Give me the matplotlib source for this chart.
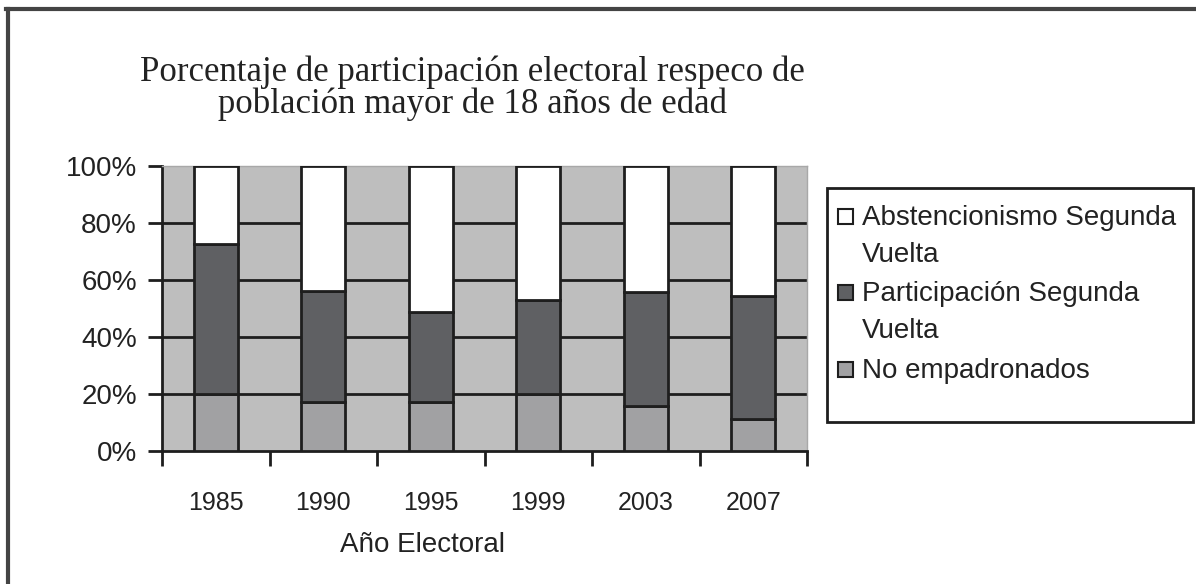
import matplotlib
matplotlib.use("Agg")
import matplotlib.pyplot as plt
from matplotlib.patches import Rectangle
from matplotlib.lines import Line2D
import numpy as np

years = ["1985", "1990", "1995", "1999", "2003", "2007"]
no_empadronados = [20.0, 17.3, 17.3, 19.9, 15.8, 11.1]
participacion = [52.5, 38.8, 31.6, 33.1, 40.1, 43.4]
abstencionismo = [27.5, 43.9, 51.1, 47.0, 44.1, 45.5]
series_labels = ["Abstencionismo Segunda\nVuelta", "Participación Segunda\nVuelta", "No empadronados"]
yticks = [0, 20, 40, 60, 80, 100]
ytick_labels = ["0%", "20%", "40%", "60%", "80%", "100%"]

W, H = 1196, 584
fig = plt.figure(figsize=(W / 100, H / 100), dpi=100)
fig.patch.set_facecolor("white")

def fx(px):
    return px / W

def fy(py):
    return 1 - py / H

ax = fig.add_axes([fx(162), fy(451), fx(807) - fx(162), fy(166) - fy(451)])
ax.set_facecolor("#bebebe")

c_abs = "#ffffff"
c_part = "#5f6063"
c_ne = "#a1a1a3"
edge = "#1e1e1e"
txt = "#222222"

x = np.arange(len(years))
ne = np.array(no_empadronados)
pa = np.array(participacion)
ab = np.array(abstencionismo)
tot = ne + pa + ab
ne_p, pa_p, ab_p = ne / tot * 100, pa / tot * 100, ab / tot * 100

for yv in [20, 40, 60, 80]:
    ax.axhline(yv, color=edge, lw=2, zorder=1)

bw = 0.41
ax.bar(x, ne_p, bw, color=c_ne, edgecolor=edge, lw=2, zorder=3)
ax.bar(x, pa_p, bw, bottom=ne_p, color=c_part, edgecolor=edge, lw=2, zorder=3)
ax.bar(x, ab_p, bw, bottom=ne_p + pa_p, color=c_abs, edgecolor=edge, lw=2, zorder=3)

ax.set_xlim(-0.5, len(years) - 0.5)
ax.set_ylim(0, 100)
ax.set_yticks(yticks)
ax.set_yticklabels(ytick_labels, fontsize=20, family="Liberation Sans", color=txt)
ax.set_xticks(x)
ax.set_xticklabels(years, fontsize=18, family="Liberation Sans", color=txt)
ax.set_xticks(np.arange(-0.5, len(years)), minor=True)
ax.tick_params(axis="x", which="major", length=0, pad=29)
ax.tick_params(axis="x", which="minor", length=11, width=2, color=edge, direction="out")
ax.tick_params(axis="y", which="major", length=10, width=2, color=edge, direction="out", pad=8)

for s in ["left", "bottom"]:
    ax.spines[s].set_color(edge)
    ax.spines[s].set_linewidth(2)
for s in ["top", "right"]:
    ax.spines[s].set_color("#a8a8a8")
    ax.spines[s].set_linewidth(1)

fig.text(fx(423), fy(545), "Año Electoral", ha="center", va="center",
         fontsize=20, family="Liberation Sans", color=txt)

fig.text(fx(472), fy(88), "Porcentaje de participación electoral respeco de\npoblación mayor de 18 años de edad",
         ha="center", va="center", fontsize=25, family="Liberation Serif", color=txt, linespacing=0.93)

# legend frame
fig.patches.append(Rectangle((fx(827), fy(422)), fx(1193) - fx(827), fy(188) - fy(422),
                             transform=fig.transFigure, fill=False, edgecolor=edge, lw=2))
colors = [c_abs, c_part, c_ne]
baselines = [225, 301, 378]
for lab, col, b in zip(series_labels, colors, baselines):
    fig.patches.append(Rectangle((fx(838), fy(b - 1)), fx(15), 15 / H,
                                 transform=fig.transFigure, facecolor=col, edgecolor=edge, lw=1.5))
    for i, line in enumerate(lab.split("\n")):
        fig.text(fx(862), fy(b + 37 * i), line, ha="left", va="baseline",
                 fontsize=20, family="Liberation Sans", color=txt)

# outer chart frame (left and top visible)
fig.add_artist(Line2D([fx(7.5), fx(7.5)], [fy(8.5), 0], transform=fig.transFigure, color="#444444", lw=3))
fig.add_artist(Line2D([fx(6), 1], [fy(8.5), fy(8.5)], transform=fig.transFigure, color="#444444", lw=3))

fig.savefig("out.png", dpi=100)
